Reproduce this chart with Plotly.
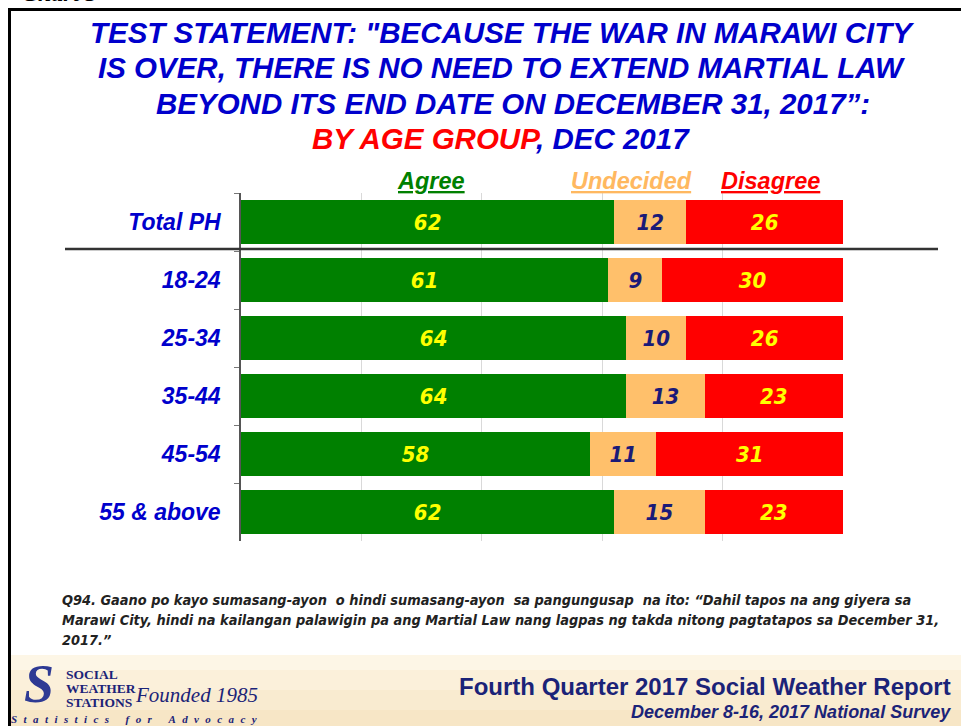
import plotly.graph_objects as go

# ---- data ----
categories = ["Total PH", "18-24", "25-34", "35-44", "45-54", "55 &amp; above"]
agree = [62, 61, 64, 64, 58, 62]
undecided = [12, 9, 10, 13, 11, 15]
disagree = [26, 30, 26, 23, 31, 23]
x_ticks = [0, 20, 40, 60, 80, 100]

title_lines = [
    'TEST STATEMENT: "BECAUSE THE WAR IN MARAWI CITY',
    'IS OVER, THERE IS NO NEED TO EXTEND MARTIAL LAW',
    'BEYOND ITS END DATE ON DECEMBER 31, 2017”:',
]
footnote_lines = [
    "Q94. Gaano po kayo sumasang-ayon  o hindi sumasang-ayon  sa pangungusap  na ito: “Dahil tapos na ang giyera sa",
    "Marawi City, hindi na kailangan palawigin pa ang Martial Law nang lagpas ng takda nitong pagtatapos sa December 31,",
    "2017.”",
]

W, H = 961, 726
X0, X1 = 241, 843
Y0, Y1 = 193, 541


def px(x):
    return (x - X0) / (X1 - X0)


def py(y):
    return (Y1 - y) / (Y1 - Y0)


GREEN = "#008000"
ORANGE = "#FFC06B"
RED = "#FF0000"
BLUE = "#0000CC"
NAVY = "#1B2378"
NARROW = "Liberation Sans Narrow, Arial Narrow, DejaVu Sans Condensed, sans-serif"
SANS = "Liberation Sans, Arial, sans-serif"
SERIF = "Liberation Serif, Times New Roman, serif"

fig = go.Figure()
series = [
    ("Agree", agree, GREEN, "#FFFF00"),
    ("Undecided", undecided, ORANGE, "#1A1A78"),
    ("Disagree", disagree, RED, "#FFFF00"),
]
for name, vals, col, tcol in series:
    fig.add_trace(go.Bar(
        name=name, y=categories, x=vals, orientation="h",
        marker=dict(color=col, line=dict(width=0)),
        text=[str(v) for v in vals], textposition="inside",
        insidetextanchor="middle", textangle=0, constraintext="none",
        textfont=dict(family=NARROW, size=22, color=tcol, weight="bold", style="italic"),
        hoverinfo="skip",
    ))

fig.update_layout(
    width=W, height=H, barmode="stack", bargap=0.25, showlegend=False,
    margin=dict(l=X0, r=W - X1, t=Y0, b=H - Y1, pad=0),
    paper_bgcolor="white", plot_bgcolor="white",
    xaxis=dict(range=[0, 100], tickvals=x_ticks, showticklabels=False, showgrid=True,
               gridcolor="#D9D9D9", gridwidth=1, zeroline=False, showline=False, fixedrange=True),
    yaxis=dict(autorange="reversed", showline=True, linecolor="#555555", linewidth=1.5,
               ticks="outside", ticklen=5, tickcolor="#777777", tickson="boundaries",
               ticklabelstandoff=14, showgrid=False, fixedrange=True,
               tickfont=dict(family=SANS, size=23, color=BLUE, weight="bold", style="italic")),
)

shapes = []
# footer band (gradient strips)
band = [("#FDF6E6", 655, 670), ("#FBF0DA", 670, 690), ("#F9EBD0", 690, 710), ("#F7E6C6", 710, 728)]
for c, a, b in band:
    shapes.append(dict(type="rect", xref="paper", yref="paper", x0=px(10.5), x1=px(975), y0=py(a), y1=py(b),
                       line=dict(width=0), fillcolor=c, layer="below"))
# frame
shapes.append(dict(type="line", xref="paper", yref="paper", x0=px(8), x1=px(975), y0=py(9.5), y1=py(9.5),
                   line=dict(color="black", width=3)))
shapes.append(dict(type="line", xref="paper", yref="paper", x0=px(9.5), x1=px(9.5), y0=py(8), y1=py(740),
                   line=dict(color="black", width=3)))
# separator line
shapes.append(dict(type="line", xref="paper", yref="paper", x0=px(65), x1=px(938), y0=py(249), y1=py(249),
                   line=dict(color="#333333", width=2.5)))
fig.update_layout(shapes=shapes)

ann = []


def add(text, x, y, size, color, family=SANS, weight="bold", style="italic", xanchor="center", yanchor="middle"):
    ann.append(dict(text=text, xref="paper", yref="paper", x=px(x), y=py(y), showarrow=False,
                    xanchor=xanchor, yanchor=yanchor,
                    font=dict(family=family, size=size, color=color, weight=weight, style=style)))


# title
add(title_lines[0], 502, 33, 29.5, BLUE)
add(title_lines[1], 501, 68, 29.5, BLUE)
add(title_lines[2], 513, 103, 29.5, BLUE)
add('<span style="color:#FF0000">BY AGE GROUP</span>, DEC 2017', 501, 138, 29.5, BLUE)
# legend labels
add("<u>Agree</u>", 431, 181, 23.5, GREEN)
add("<u>Undecided</u>", 631, 181, 23.5, "#FFB860")
add("<u>Disagree</u>", 770, 181, 23.5, RED)
# footnote
for i, line in enumerate(footnote_lines):
    add(line, 60, 600 + i * 20, 14.4, "#222222", family=NARROW, xanchor="left")
# footer
add("Fourth Quarter 2017 Social Weather Report", 953, 686, 24, NAVY, style="normal", xanchor="right")
add("December 8-16, 2017 National Survey", 953, 712, 18, NAVY, xanchor="right")
# logo
add("S", 39, 684, 54, "#2E3A94", family=SERIF)
add("SOCIAL", 64, 674, 13.5, NAVY, family=SERIF, style="normal", xanchor="left")
add("WEATHER", 64, 688, 13.5, NAVY, family=SERIF, style="normal", xanchor="left")
add("STATIONS", 64, 702, 13.5, NAVY, family=SERIF, style="normal", xanchor="left")
add("Founded 1985", 196, 695, 21, NAVY, family=SERIF, weight="normal")
sp = "\u2002\u200a"
spaced = sp.join("Statistics") + "\u2002\u2002\u2002" + sp.join("for") + "\u2002\u2002\u2002" + sp.join("Advocacy")
add(spaced, 134, 719, 11, NAVY, family=SERIF)
# cut-off heading at top
add("Chart 5", 60, 8, 24, "#000000", family=SERIF, yanchor="bottom")

fig.update_layout(annotations=ann)
fig.write_html("out.html", config={"displayModeBar": False},
               post_script="document.body.style.margin='0';document.body.style.overflow='hidden';")
